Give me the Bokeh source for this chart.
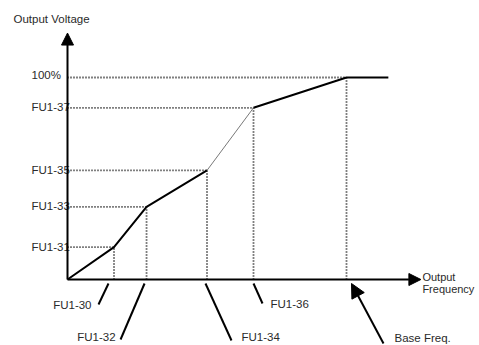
from bokeh.plotting import figure
from bokeh.models import Arrow, NormalHead, Range1d
from bokeh.core.properties import value
from bokeh.embed import file_html
from bokeh.resources import INLINE

# ---------------- data ----------------
freq_labels = ["FU1-30", "FU1-32", "FU1-34", "FU1-36", "Base Freq."]
freq_points = [10, 17, 30, 40, 60]          # output frequency break points
volt_labels = ["FU1-31", "FU1-33", "FU1-35", "FU1-37", "100%"]
volt_points = [16, 36, 54, 85, 100]         # output voltage (%) at break points
curve_end_freq = 69
x_axis_max = 76
y_axis_max = 122

# ---------------- layout helpers ----------------
W, H = 479, 345
PXX, PXY = 4.65, 2.02          # pixels per data unit
OX, OY = 67, 279               # origin in canvas pixels
def dx(px):
    return px / PXX
def dy(px):
    return px / PXY

FONT = value("'Liberation Sans', Arial, sans-serif")
FS = "11.5px"
TXT = "#2a2a2a"

p = figure(width=W, height=H, output_backend="svg", toolbar_location=None,
           x_range=Range1d(-OX / PXX, (W - OX) / PXX),
           y_range=Range1d(-(H - OY) / PXY, OY / PXY),
           min_border=0, outline_line_color=None)
p.axis.visible = False
p.grid.visible = False
p.background_fill_color = "white"

def txt(xs, ys, texts, align="left", size=FS):
    p.text(x=xs, y=ys, text=texts, text_font=FONT, text_font_size=size,
           text_color=TXT, text_align=align, text_baseline="alphabetic")

# dotted guide lines
p.segment(x0=[0] * 5, y0=volt_points, x1=freq_points, y1=volt_points,
          line_color="black", line_width=1.8, line_dash="1 2")
p.segment(x0=freq_points, y0=[0] * 5, x1=freq_points, y1=volt_points,
          line_color="black", line_width=1.8, line_dash="1 2")

# V/F curve
cx = [0] + freq_points + [curve_end_freq]
cy = [0] + volt_points + [volt_points[-1]]
p.line(cx[:4], cy[:4], line_color="black", line_width=2)
p.line(cx[3:5], cy[3:5], line_color="#555555", line_width=0.8)
p.line(cx[4:], cy[4:], line_color="black", line_width=2)

# y labels
txt([-dx(36)] * 4, [v + dy(0.5) for v in volt_points[:4]], volt_labels[:4])
txt([-dx(36)], [volt_points[4] + dy(3)], [volt_labels[4]])
txt([-dx(54)], [dy(261)], ["Output Voltage"])
txt([x_axis_max + dx(1.5)] * 2, [dy(3), -dy(9)], ["Output", "Frequency"], size="11px")

# leader lines (offsets in px from each frequency point on the axis)
lead = [(-5.5, -4, -15.5, -25), (-2, -4, -26, -60), (-1.5, -4, 24.5, -61), (0, -4, 9, -24)]
p.segment(x0=[f + dx(a) for f, (a, b, c, d) in zip(freq_points, lead)],
          y0=[dy(b) for (a, b, c, d) in lead],
          x1=[f + dx(c) for f, (a, b, c, d) in zip(freq_points, lead)],
          y1=[dy(d) for (a, b, c, d) in lead],
          line_color="black", line_width=2)
lab = [(-22.5, -25, "right"), (-31, -57, "right"), (34.5, -57, "left"), (17, -24, "left")]
for f, t, (ox, oy, al) in zip(freq_points[:4], freq_labels[:4], lab):
    txt([f + dx(ox)], [dy(oy)], [t], al)
txt([freq_points[4] + dx(48)], [-dy(58)], [freq_labels[4]])

# base freq arrow
p.add_layout(Arrow(end=NormalHead(size=14, fill_color="black", line_color="black"),
                   x_start=freq_points[4] + dx(37), y_start=-dy(64),
                   x_end=freq_points[4] + dx(5), y_end=-dy(4),
                   line_color="black", line_width=2))

# axes with arrows
p.add_layout(Arrow(end=NormalHead(size=12, fill_color="black", line_color="black"),
                   x_start=0, y_start=0, x_end=x_axis_max, y_end=0,
                   line_color="black", line_width=2))
p.add_layout(Arrow(end=NormalHead(size=12, fill_color="black", line_color="black"),
                   x_start=0, y_start=0, x_end=0, y_end=y_axis_max,
                   line_color="black", line_width=2))

open("out.html", "w").write(file_html(p, INLINE))
